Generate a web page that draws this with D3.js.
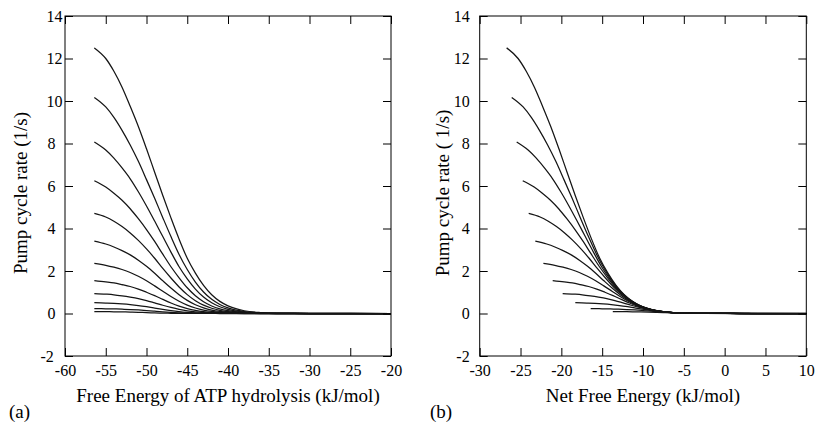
<!DOCTYPE html>
<html>
<head>
<meta charset="utf-8">
<script src="https://cdn.jsdelivr.net/npm/d3@7"></script>
<style>
  body { margin: 0; background: #fff; }
</style>
</head>
<body>
<svg id="chart" width="818" height="424"></svg>
<script>
// free energy of ATP hydrolysis (kJ/mol), shared grid for every curve
const atpEnergy = [-56.4, -55, -54, -53, -52, -51, -50, -49, -48, -47, -46, -45, -44, -43, -42, -41, -40, -38, -36, -34, -30, -20, -15];

// pump cycle rate (1/s), one array per curve, top curve first
const rate1  = [12.5, 12.0, 11.4, 10.65, 9.75, 8.8, 7.75, 6.65, 5.55, 4.5, 3.5, 2.6, 1.9, 1.32, 0.88, 0.57, 0.36, 0.13, 0.043, 0.013, 0.001, 0, 0];
const rate2  = [10.17, 9.72, 9.23, 8.62, 7.93, 7.16, 6.30, 5.42, 4.51, 3.62, 2.78, 2.07, 1.48, 1.01, 0.665, 0.426, 0.264, 0.092, 0.030, 0.009, 0.001, 0, 0];
const rate3  = [8.07, 7.69, 7.31, 6.85, 6.34, 5.73, 5.06, 4.35, 3.62, 2.89, 2.20, 1.63, 1.15, 0.772, 0.503, 0.318, 0.194, 0.066, 0.021, 0.006, 0.0005, 0, 0];
const rate4  = [6.25, 5.95, 5.66, 5.33, 4.93, 4.46, 3.95, 3.39, 2.79, 2.20, 1.68, 1.21, 0.835, 0.554, 0.355, 0.22, 0.13, 0.043, 0.013, 0.004, 0, 0, 0];
const rate5  = [4.71, 4.54, 4.34, 4.09, 3.79, 3.44, 3.04, 2.60, 2.12, 1.67, 1.25, 0.889, 0.603, 0.394, 0.248, 0.15, 0.088, 0.028, 0.009, 0.003, 0, 0, 0];
const rate6  = [3.41, 3.27, 3.13, 2.96, 2.76, 2.51, 2.22, 1.89, 1.54, 1.20, 0.886, 0.619, 0.414, 0.266, 0.162, 0.096, 0.056, 0.017, 0.005, 0.002, 0, 0, 0];
const rate7  = [2.36, 2.27, 2.18, 2.07, 1.93, 1.75, 1.54, 1.30, 1.05, 0.80, 0.578, 0.396, 0.259, 0.16, 0.096, 0.056, 0.032, 0.01, 0.003, 0.001, 0, 0, 0];
const rate8  = [1.55, 1.49, 1.44, 1.36, 1.27, 1.15, 1.00, 0.84, 0.663, 0.493, 0.347, 0.231, 0.145, 0.087, 0.051, 0.029, 0.016, 0.005, 0.0015, 0, 0, 0, 0];
const rate9  = [0.94, 0.91, 0.88, 0.83, 0.77, 0.70, 0.61, 0.50, 0.388, 0.284, 0.194, 0.124, 0.075, 0.044, 0.025, 0.014, 0.008, 0.002, 0.001, 0, 0, 0, 0];
const rate10 = [0.51, 0.494, 0.476, 0.451, 0.418, 0.374, 0.319, 0.257, 0.193, 0.135, 0.088, 0.054, 0.032, 0.018, 0.01, 0.006, 0.003, 0.001, 0, 0, 0, 0, 0];
const rate11 = [0.23, 0.223, 0.215, 0.203, 0.187, 0.165, 0.138, 0.107, 0.076, 0.051, 0.032, 0.019, 0.011, 0.006, 0.003, 0.002, 0.001, 0, 0, 0, 0, 0, 0];
const rate12 = [0.09, 0.086, 0.082, 0.075, 0.067, 0.055, 0.042, 0.030, 0.019, 0.011, 0.0065, 0.004, 0.002, 0.001, 0.001, 0, 0, 0, 0, 0, 0, 0, 0];
const rates = [rate1, rate2, rate3, rate4, rate5, rate6, rate7, rate8, rate9, rate10, rate11, rate12];

// gradient contribution added to each curve in panel (b): net = ATP + shift (kJ/mol)
const gradientShift = [29.7, 30.32, 30.93, 31.67, 32.4, 33.21, 34.2, 35.34, 36.56, 38.11, 39.99, 42.7];

// ticks
const yTicks = [-2, 0, 2, 4, 6, 8, 10, 12, 14];
const xTicksA = [-60, -55, -50, -45, -40, -35, -30, -25, -20];
const xTicksB = [-30, -25, -20, -15, -10, -5, 0, 5, 10];

const serif = "Liberation Serif, Times New Roman, serif";
const svg = d3.select("#chart");
svg.append("rect").attr("width", 818).attr("height", 424).attr("fill", "#fff");

const plotTop = 16, plotBottom = 356;

function cleanAxis(g) {
  g.attr("font-family", serif).attr("font-size", 16);
  g.select(".domain").remove();
}

function drawPanel(opt) {
  const x = d3.scaleLinear().domain(opt.domain).range([opt.left, opt.right]);
  const y = d3.scaleLinear().domain([-2, 14]).range([plotBottom, plotTop]);
  const g = svg.append("g");

  g.append("clipPath").attr("id", "clip-" + opt.tag)
    .append("rect")
    .attr("x", opt.left).attr("y", plotTop)
    .attr("width", opt.right - opt.left).attr("height", plotBottom - plotTop);

  // curves
  const line = d3.line()
    .x(d => x(d[0]))
    .y(d => y(d[1]))
    .curve(d3.curveMonotoneX);

  g.append("g")
    .attr("clip-path", `url(#clip-${opt.tag})`)
    .selectAll("path")
    .data(rates)
    .join("path")
      .attr("d", (r, i) => line(atpEnergy.map((e, j) => [e + opt.shift(i), r[j]])))
      .attr("fill", "none")
      .attr("stroke", "#151515")
      .attr("stroke-width", 1.25);

  // axes with inward ticks on all four sides
  g.append("g")
    .attr("transform", `translate(0,${plotBottom})`)
    .call(d3.axisBottom(x).tickValues(opt.xTicks).tickSize(-8).tickSizeOuter(0)
      .tickPadding(9).tickFormat(d => String(d)))
    .call(cleanAxis);

  g.append("g")
    .attr("transform", `translate(0,${plotTop})`)
    .call(d3.axisTop(x).tickValues(opt.xTicks).tickSize(-8).tickSizeOuter(0).tickFormat(""))
    .call(cleanAxis);

  const yAxis = g.append("g")
    .attr("transform", `translate(${opt.left},0)`)
    .call(d3.axisLeft(y).tickValues(yTicks).tickSize(-8).tickSizeOuter(0)
      .tickPadding(opt.yPad).tickFormat(d => String(d)))
    .call(cleanAxis);
  if (opt.yLabelsStart) {
    // panel (a) labels sit left-aligned, the minus sign hanging out
    yAxis.selectAll(".tick text")
      .attr("text-anchor", "start")
      .attr("x", d => d < 0 ? -24.5 : (d >= 10 ? -18.5 : -17.5));
  }

  g.append("g")
    .attr("transform", `translate(${opt.right},0)`)
    .call(d3.axisRight(y).tickValues(yTicks).tickSize(-8).tickSizeOuter(0).tickFormat(""))
    .call(cleanAxis);

  g.append("rect")
    .attr("x", opt.left).attr("y", plotTop)
    .attr("width", opt.right - opt.left).attr("height", plotBottom - plotTop)
    .attr("fill", "none").attr("stroke", "#000").attr("stroke-width", 1);

  // labels
  g.append("text")
    .attr("x", (opt.left + opt.right) / 2)
    .attr("y", 402)
    .attr("text-anchor", "middle")
    .attr("font-family", serif)
    .attr("font-size", 19)
    .text(opt.xLabel);

  g.append("text")
    .attr("transform", `translate(${opt.yLabelX},193) rotate(-90)`)
    .attr("text-anchor", "middle")
    .attr("dy", "0.35em")
    .attr("font-family", serif)
    .attr("font-size", 19)
    .text(opt.yLabel);

  g.append("text")
    .attr("x", opt.tagX)
    .attr("y", 418)
    .attr("font-family", serif)
    .attr("font-size", 19)
    .text(`(${opt.tag})`);
}

drawPanel({
  tag: "a", left: 65, right: 391, domain: [-60, -20], xTicks: xTicksA,
  shift: () => 0, yPad: 3.5, yLabelsStart: true, yLabelX: 20, tagX: 9,
  xLabel: "Free Energy of ATP hydrolysis (kJ/mol)",
  yLabel: "Pump cycle rate (1/s)"
});

drawPanel({
  tag: "b", left: 479.7, right: 806.3, domain: [-30, 10], xTicks: xTicksB,
  shift: i => gradientShift[i], yPad: 10, yLabelsStart: false, yLabelX: 442, tagX: 430,
  xLabel: "Net Free Energy (kJ/mol)",
  yLabel: "Pump cycle rate ( 1/s)"
});
</script>
</body>
</html>
